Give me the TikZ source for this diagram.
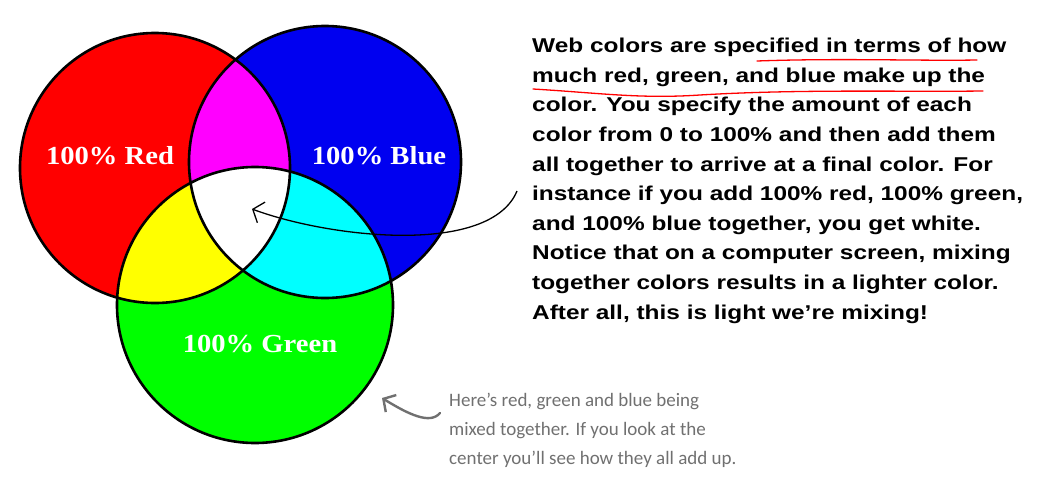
\documentclass[tikz,border=0pt]{standalone}
\usepackage{fontspec}
\usetikzlibrary{arrows.meta}
\newfontfamily\bodyfont{Liberation Sans Bold}[FakeStretch=1.22]
\newfontfamily\labelfont{Liberation Serif Bold}[FakeStretch=1.1]
\newfontfamily\notefont{Carlito}
\definecolor{notegray}{RGB}{112,112,112}
\definecolor{pred}{RGB}{255,0,0}
\definecolor{pgreen}{RGB}{0,255,0}
\definecolor{pblue}{RGB}{0,0,240}
\definecolor{pmagenta}{RGB}{255,0,255}
\definecolor{pyellow}{RGB}{255,255,0}
\definecolor{pcyan}{RGB}{0,255,255}
\newcommand\redpath{(155,168) circle[radius=135pt]}
\newcommand\bluepath{(325,162) circle[radius=136pt]}
\newcommand\greenpath{(255,305) circle[radius=138pt]}

\begin{document}
\begin{tikzpicture}[x=1pt, y=-1pt, line join=round,
  ring/.style={draw=black, line width=2.6pt},
  lbl/.style={text=white, font=\labelfont\fontsize{26}{30}\selectfont},
  uline/.style={draw=red, line width=1.3pt, line cap=round}]
  \useasboundingbox (0,0) rectangle (1038,482);

  % primaries and their overlaps
  \fill[pred] \redpath;
  \fill[pblue] \bluepath;
  \fill[pgreen] \greenpath;
  \begin{scope}
    \clip \redpath;
    \fill[pmagenta] \bluepath;
    \fill[pyellow] \greenpath;
  \end{scope}
  \begin{scope}
    \clip \bluepath;
    \fill[pcyan] \greenpath;
  \end{scope}
  \begin{scope}
    \clip \redpath; \clip \bluepath;
    \fill[white] \greenpath;
  \end{scope}
  \draw[ring] \redpath;
  \draw[ring] \bluepath;
  \draw[ring] \greenpath;

  \node[lbl] (redlbl) at (110,156) {100\% Red};
  \node[lbl] (bluelbl) at (379,156) {100\% Blue};
  \node[lbl] (greenlbl) at (260,344) {100\% Green};

  \node[anchor=north west, inner sep=0pt, align=left,
        font=\bodyfont\fontsize{20}{29.6}\selectfont] (webtext) at (532,38)
    {Web colors are specified in terms of how\\
     much red, green, and blue make up the\\
     color. You specify the amount of each\\
     color from 0 to 100\% and then add them\\
     all together to arrive at a final color. For\\
     instance if you add 100\% red, 100\% green,\\
     and 100\% blue together, you get white.\\
     Notice that on a computer screen, mixing\\
     together colors results in a lighter color.\\
     After all, this is light we’re mixing!};
  \draw[uline] (757,61) .. controls (840,58) and (920,61) .. (977,60);
  \draw[uline] (533,89) .. controls (600,93) and (640,99) .. (700,95)
               .. controls (800,89) and (900,92) .. (983,91);

  \coordinate (tail) at (517,191);
  \coordinate (mix) at (252,209);
  \draw[-{Straight Barb[length=9pt,width=22pt]}, line width=1.3pt]
    (tail) .. controls (490,256) and (330,238) .. (mix);

  \node[anchor=north west, inner sep=0pt, align=left, text=notegray,
        font=\notefont\fontsize{19}{29}\selectfont] (note) at (449,393)
    {Here’s red, green and blue being\\
     mixed together. If you look at the\\
     center you’ll see how they all add up.};
  \coordinate (notetail) at (440,413);
  \coordinate (notetip) at (382,398);
  \draw[-{Straight Barb[length=9pt,width=20pt]}, draw=notegray, line width=2.4pt, line cap=round]
    (notetail) .. controls (430,425) and (408,414) .. (notetip);
\end{tikzpicture}
\end{document}
